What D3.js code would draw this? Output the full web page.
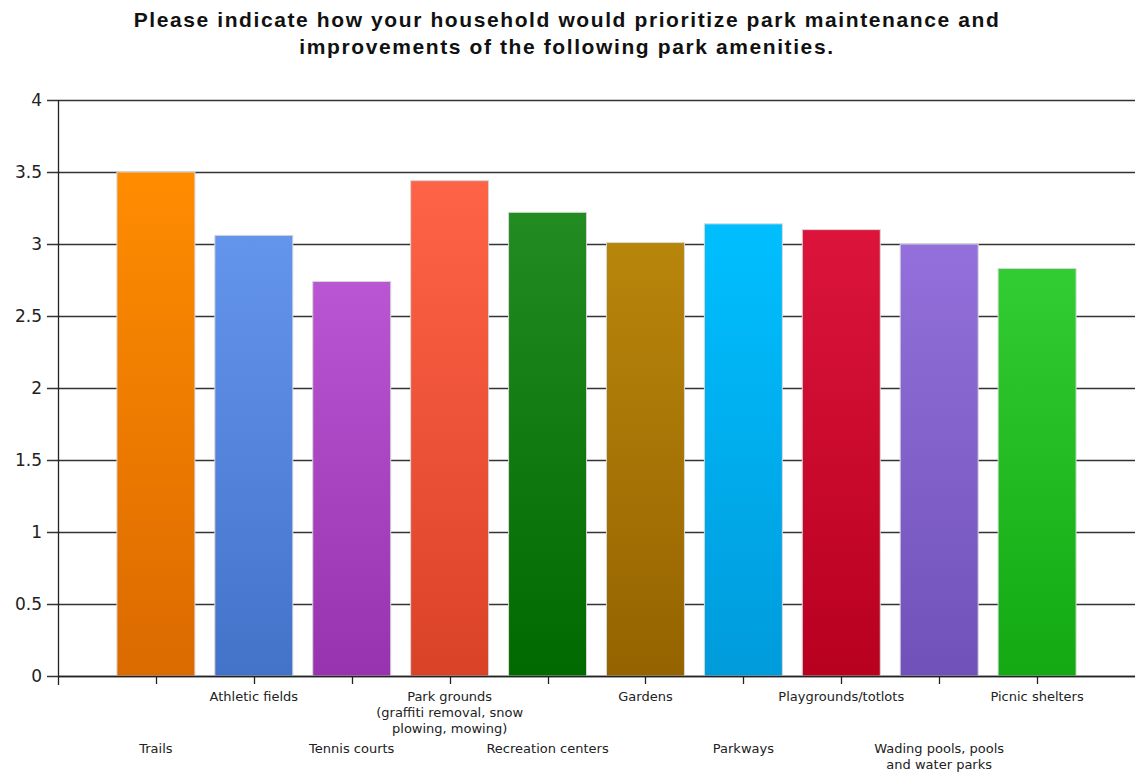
<!DOCTYPE html>
<html>
<head>
<meta charset="utf-8">
<script src="https://cdn.jsdelivr.net/npm/d3@7"></script>
<style>
  body { margin: 0; background: #fff; }
  text { font-family: "DejaVu Sans", sans-serif; fill: #222; }
</style>
</head>
<body>
<svg class="chart"></svg>
<script>
var width = 1135,
    height = 774;

var categories = ["Trails", "Athletic fields", "Tennis courts",
  "Park grounds\n(graffiti removal, snow\nplowing, mowing)", "Recreation centers",
  "Gardens", "Parkways", "Playgrounds/totlots",
  "Wading pools, pools\nand water parks", "Picnic shelters"];
var values = [3.50, 3.06, 2.74, 3.44, 3.22, 3.01, 3.14, 3.10, 3.00, 2.83];
var topColors = ["#ff8c00", "#6495ed", "#ba55d3", "#ff6347", "#228b22",
  "#b8860b", "#00bfff", "#dc143c", "#9370db", "#32cd32"];
var bottomColors = ["#db6a00", "#4372c9", "#9733ae", "#da4228", "#006a00",
  "#956300", "#009bdb", "#b8001f", "#7051b9", "#12a912"];
var yTicks = [0, 0.5, 1, 1.5, 2, 2.5, 3, 3.5, 4];

var plotLeft = 58, plotRight = 1135, plotTop = 100, plotBottom = 676;

var chart = d3.select(".chart")
    .attr("width", width)
    .attr("height", height);

var y = d3.scaleLinear()
    .domain([0, 4])
    .range([plotBottom, plotTop]);

// 11 slots, bars centered on ticks 1..10
var step = (plotRight - plotLeft) / 11;
var x = d3.scalePoint()
    .domain(categories)
    .range([plotLeft + step, plotLeft + 10 * step]);

var barWidth = 78;

var defs = chart.append("defs");
categories.forEach(function(c, i) {
  var g = defs.append("linearGradient")
      .attr("id", "grad" + i)
      .attr("x1", 0).attr("y1", 0).attr("x2", 0).attr("y2", 1);
  g.append("stop").attr("offset", "0%").attr("stop-color", topColors[i]);
  g.append("stop").attr("offset", "100%").attr("stop-color", bottomColors[i]);
});

// title
chart.append("text")
    .attr("x", 567)
    .attr("y", 27)
    .attr("text-anchor", "middle")
    .style("font-family", "Arial, 'Liberation Sans', sans-serif")
    .style("font-weight", "bold")
    .style("font-size", "21px")
    .style("letter-spacing", "1.6px")
    .style("fill", "#111")
    .selectAll("tspan")
    .data(["Please indicate how your household would prioritize park maintenance and",
           "improvements of the following park amenities."])
  .enter().append("tspan")
    .attr("x", 567)
    .attr("dy", function(d, i) { return i ? 27 : 0; })
    .text(function(d) { return d; });

// gridlines
chart.append("g").selectAll("line")
    .data(yTicks)
  .enter().append("line")
    .attr("x1", plotLeft - 11)
    .attr("x2", plotRight)
    .attr("y1", function(d) { return Math.round(y(d)) + 0.5; })
    .attr("y2", function(d) { return Math.round(y(d)) + 0.5; })
    .attr("stroke", "#333")
    .attr("stroke-width", 1.3);

// y labels
chart.append("g").selectAll("text")
    .data(yTicks)
  .enter().append("text")
    .attr("x", 42)
    .attr("y", function(d) { return y(d); })
    .attr("dy", "0.36em")
    .attr("text-anchor", "end")
    .style("font-size", "17px")
    .text(function(d) { return d; });

// bars
chart.append("g").selectAll("rect")
    .data(values)
  .enter().append("rect")
    .attr("x", function(d, i) { return x(categories[i]) - barWidth / 2; })
    .attr("y", function(d) { return y(d); })
    .attr("width", barWidth)
    .attr("height", function(d) { return y(0) - y(d); })
    .attr("fill", function(d, i) { return "url(#grad" + i + ")"; })
    .attr("stroke", "#d8d8d8")
    .attr("stroke-width", 1);

// axes lines
chart.append("line")
    .attr("x1", plotLeft + 0.5).attr("x2", plotLeft + 0.5)
    .attr("y1", plotTop).attr("y2", plotBottom + 9)
    .attr("stroke", "#222").attr("stroke-width", 1.3);
chart.append("line")
    .attr("x1", plotLeft).attr("x2", plotRight)
    .attr("y1", plotBottom + 0.5).attr("y2", plotBottom + 0.5)
    .attr("stroke", "#222").attr("stroke-width", 1.3);

// x ticks
chart.append("g").selectAll("line")
    .data(categories)
  .enter().append("line")
    .attr("x1", function(d) { return Math.round(x(d)) + 0.5; })
    .attr("x2", function(d) { return Math.round(x(d)) + 0.5; })
    .attr("y1", plotBottom)
    .attr("y2", plotBottom + 8)
    .attr("stroke", "#222")
    .attr("stroke-width", 1.3);

// x labels, staggered
var lab = chart.append("g").selectAll("text")
    .data(categories)
  .enter().append("text")
    .attr("text-anchor", "middle")
    .attr("transform", function(d, i) {
      return "translate(" + x(d) + "," + (i % 2 ? 701 : 753) + ")";
    })
    .style("font-size", "13px");

lab.selectAll("tspan")
    .data(function(d) { return d.split("\n"); })
  .enter().append("tspan")
    .attr("x", 0)
    .attr("y", function(d, i) { return i * 16; })
    .text(function(d) { return d; });
</script>
</body>
</html>
